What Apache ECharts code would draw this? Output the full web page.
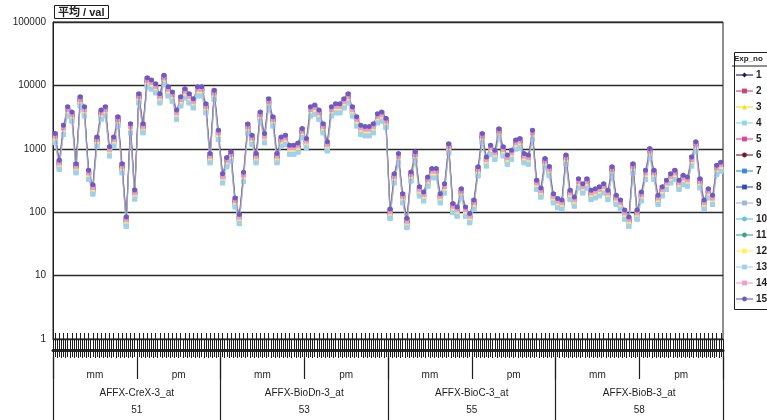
<!DOCTYPE html>
<html>
<head>
<meta charset="utf-8">
<script src="https://cdn.jsdelivr.net/npm/echarts@6/dist/echarts.min.js"></script>
<style>
  html, body { margin: 0; padding: 0; background: #ffffff; }
  #chart { width: 767px; height: 420px; }
</style>
</head>
<body>
<div id="chart"></div>
<script>
// Probe sets on the category axis: each has 20 mm probes followed by 20 pm probes
const probeSets = ['AFFX-CreX-3_at', 'AFFX-BioDn-3_at', 'AFFX-BioC-3_at', 'AFFX-BioB-3_at'];
const probeSetIds = ['51', '53', '55', '58'];
const pairTypes = ['mm', 'pm'];
const probesPerType = 20;

// Log-scale value ticks
const yTicks = [1, 10, 100, 1000, 10000, 100000];

// Signal values per experiment (Exp_no 1..15), 160 probes each
const exp1 = [1400,560,2000,4000,3100,500,5500,4000,390,220,
1300,3400,4000,880,1300,2700,480,72,2100,190,
6200,2100,11000,10500,9200,6200,12000,8200,6700,3400,
5700,7400,6300,5300,8000,8200,4300,690,7200,1600,
350,610,770,140,78,350,2100,1400,700,3300,
1500,5200,2700,720,1300,1400,980,960,1050,1800,
1250,3900,4100,3500,2100,1100,3900,4400,4300,5200,
6300,3900,2700,2000,1900,1900,2100,3000,3300,2600,
92,340,720,165,66,360,760,215,180,300,
410,420,165,235,1000,115,100,200,105,80,
130,440,1450,640,980,800,1750,920,670,800,
1180,1250,720,680,1650,270,205,600,440,165,
138,130,680,190,148,285,235,290,190,200,
215,235,190,440,155,130,92,70,490,90,
180,390,850,390,158,215,270,340,390,270,
320,305,640,1100,290,132,200,158,470,520];

const exp2 = [1650,620,2250,4300,3600,560,6200,4300,440,255,
1450,3800,4400,1000,1450,3000,550,80,2350,215,
7000,2300,12500,11500,10000,7000,13500,8900,7400,3800,
6200,8300,7000,5800,8900,9000,4800,800,7900,1850,
380,690,850,160,86,400,2300,1550,790,3600,
1650,5800,3000,790,1450,1550,1080,1070,1150,1950,
1380,4300,4600,3800,2350,1200,4300,4850,4800,5800,
6900,4300,3000,2200,2100,2100,2350,3350,3600,2850,
105,380,790,185,75,405,840,235,195,335,
455,460,185,265,1120,128,113,220,113,90,
146,490,1630,700,1070,890,1950,1010,745,890,
1290,1370,790,745,1840,300,226,655,490,185,
155,146,745,208,163,315,263,315,208,220,
236,263,208,490,173,146,101,79,545,101,
196,430,945,430,173,236,300,378,430,300,
357,336,700,1210,315,146,220,173,515,578];

const exp3 = [1350,520,1900,3500,3000,470,5200,3700,350,210,
1200,3200,3600,850,1250,2500,460,66,1950,175,
5800,1950,10300,9600,8500,5700,11400,7400,6200,3200,
5200,7000,5800,4800,7600,7400,4000,660,6500,1500,
320,570,700,132,72,330,1950,1300,650,3000,
1350,4900,2500,660,1200,1300,900,900,960,1650,
1150,3600,3850,3200,1950,1000,3600,4000,4100,4850,
5800,3600,2500,1850,1750,1750,1950,2800,3000,2400,
88,320,660,155,62,340,700,200,165,280,
380,385,155,220,940,108,95,185,95,75,
122,410,1360,585,900,750,1640,845,625,750,
1080,1150,660,625,1540,250,190,550,415,155,
130,122,625,175,137,265,220,265,175,185,
198,220,175,410,145,122,85,66,460,85,
165,360,790,360,145,198,250,315,360,250,
300,280,585,1010,265,122,185,145,430,485];

const exp4 = [1300,490,1750,3450,2850,440,4950,3450,345,200,
1150,3050,3450,810,1150,2400,435,60,1850,168,
5500,1850,9900,9150,8000,5550,10800,7100,5900,3050,
4950,6600,5550,4600,7100,7100,3850,630,6300,1450,
300,545,670,126,68,320,1850,1230,630,2850,
1300,4600,2400,630,1150,1230,855,855,925,1570,
1090,3450,3650,3050,1850,965,3450,3850,3850,4600,
5550,3450,2400,1750,1680,1680,1850,2700,2850,2250,
80,300,630,147,58,325,670,190,157,270,
365,365,147,210,900,102,90,176,90,70,
117,390,1300,560,855,715,1560,805,595,715,
1030,1090,630,595,1470,240,180,525,395,147,
123,117,595,166,130,252,210,252,166,176,
190,210,166,390,139,117,80,60,435,80,
157,345,755,345,139,190,240,300,345,240,
285,270,560,965,252,117,176,139,410,460];

const exp5 = [1700,640,2300,4450,3650,560,6400,4450,445,260,
1480,3900,4450,1040,1480,3100,560,82,2400,215,
7100,2400,12700,11800,10300,7100,13900,9200,7600,3950,
6400,8500,7100,5950,9200,9200,4950,810,8100,1900,
390,700,860,162,88,410,2400,1580,810,3650,
1680,5950,3100,810,1480,1580,1100,1100,1190,2020,
1400,4450,4700,3950,2400,1240,4450,4950,4950,5950,
7100,4450,3100,2250,2150,2150,2400,3450,3650,2900,
108,390,810,190,77,415,860,245,200,345,
470,470,190,270,1150,132,117,225,117,92,
150,500,1680,720,1100,920,2000,1040,765,920,
1330,1400,810,765,1890,310,230,675,510,190,
160,150,765,215,168,325,270,325,215,225,
245,270,215,500,178,150,104,81,560,104,
200,445,970,445,178,245,310,390,445,310,
365,345,720,1240,325,150,225,178,530,595];

const exp6 = [1600,600,2050,4000,3400,540,6000,4000,420,235,
1350,3700,4200,940,1400,2800,520,76,2250,205,
6700,2200,11500,11000,9400,6700,12600,8600,6900,3700,
6000,7800,6700,5400,8400,8700,4500,760,7400,1800,
370,640,820,148,84,370,2250,1450,760,3350,
1550,5400,2900,740,1400,1450,1030,1010,1100,1850,
1310,4050,4400,3600,2250,1150,4150,4550,4650,5500,
6500,4150,2850,2100,1980,2020,2200,3250,3350,2750,
100,365,740,178,70,390,790,228,185,325,
440,430,178,248,1080,120,110,212,106,86,
140,460,1560,660,1030,840,1880,950,715,860,
1240,1290,760,700,1760,290,212,630,465,178,
148,140,700,200,152,305,248,300,200,208,
228,252,195,470,163,140,97,74,525,95,
190,405,910,410,168,222,290,355,415,282,
345,318,670,1160,298,140,212,163,495,545];

const exp7 = [1430,545,1930,3770,3130,480,5430,3770,377,221,
1260,3350,3770,883,1260,2620,478,69,2040,184,
6070,2040,10900,10000,8740,6070,11900,7820,6440,3350,
5430,7270,6070,5060,7820,7820,4230,690,6900,1610,
331,598,736,138,75,350,2020,1340,690,3130,
1430,5060,2620,690,1260,1340,938,938,1010,1720,
1200,3770,4020,3350,2040,1060,3770,4230,4230,5060,
6070,3770,2620,1930,1840,1840,2040,2940,3130,2480,
92,331,690,161,65,354,736,207,172,294,
400,400,161,230,984,112,99,193,99,78,
128,428,1430,612,938,782,1710,883,653,782,
1130,1200,690,653,1610,262,198,575,432,161,
135,128,653,182,143,276,230,276,182,193,
207,230,182,428,152,128,88,69,478,88,
172,377,828,377,152,207,262,331,377,262,
313,294,612,1060,276,128,193,152,451,506];

const exp8 = [1520,580,2080,4020,3280,500,5800,4050,400,232,
1320,3550,4000,930,1340,2780,505,72,2180,195,
6450,2170,11600,10600,9200,6400,12500,8300,6800,3550,
5750,7700,6400,5350,8250,8300,4450,730,7300,1700,
350,630,780,146,80,370,2140,1420,730,3300,
1500,5350,2780,730,1330,1420,990,990,1070,1820,
1260,4000,4250,3550,2150,1120,4000,4450,4500,5350,
6400,4000,2780,2040,1940,1940,2150,3100,3300,2620,
97,350,730,170,69,375,775,218,182,310,
422,422,170,243,1040,118,105,204,105,82,
135,450,1500,645,990,825,1800,930,690,825,
1190,1260,730,690,1700,276,209,605,455,170,
143,135,690,192,150,291,243,291,192,204,
218,243,192,450,160,135,93,73,505,93,
181,398,873,398,160,218,276,349,398,276,
330,310,645,1120,291,135,204,160,475,534];

const exp9 = [1290,490,1740,3400,2820,430,4900,3400,340,200,
1140,3020,3400,800,1140,2370,430,62,1840,166,
5480,1840,9800,9050,7900,5480,10700,7050,5800,3020,
4900,6560,5480,4570,7050,7050,3820,620,6230,1450,
300,540,660,125,68,315,1830,1210,620,2820,
1290,4570,2370,620,1140,1210,850,850,910,1550,
1080,3400,3630,3020,1840,955,3400,3820,3820,4570,
5480,3400,2370,1740,1660,1660,1840,2660,2820,2240,
83,300,620,145,59,320,660,187,155,265,
361,361,145,208,888,101,90,174,90,71,
115,386,1290,552,847,706,1540,797,589,706,
1020,1080,620,589,1450,237,178,519,390,145,
122,115,589,164,129,249,208,249,164,174,
187,208,164,386,137,115,80,62,432,80,
155,340,747,340,137,187,237,299,340,237,
282,266,552,955,249,115,174,137,407,457];

const exp10 = [1420,530,1850,3700,3050,470,5300,3650,365,216,
1230,3280,3700,860,1230,2560,470,67,2000,180,
5950,2000,10600,9800,8550,5950,11600,7650,6300,3280,
5300,7100,5950,4950,7650,7650,4150,675,6750,1580,
325,585,720,135,74,342,1980,1310,675,3060,
1400,4950,2560,675,1230,1310,918,918,990,1680,
1170,3690,3930,3280,2000,1035,3690,4140,4140,4950,
5940,3690,2565,1890,1800,1800,2000,2880,3060,2430,
90,324,675,158,64,347,720,203,168,288,
392,392,158,225,963,110,97,189,97,77,
125,419,1395,599,918,765,1674,864,639,765,
1107,1170,675,639,1575,257,194,563,423,158,
132,125,639,178,140,270,225,270,178,189,
203,225,178,419,149,125,86,68,468,86,
168,369,810,369,149,203,257,324,369,257,
306,288,599,1035,270,125,189,149,441,495];

const exp11 = [1480,560,1950,3800,3200,490,5500,3850,385,224,
1280,3400,3800,900,1290,2650,485,70,2060,186,
6150,2070,11000,10100,8850,6150,12000,7900,6500,3400,
5500,7350,6150,5100,7900,7900,4300,700,6980,1630,
335,605,745,140,76,355,2050,1360,700,3160,
1440,5100,2650,700,1270,1360,950,950,1020,1740,
1210,3810,4060,3390,2060,1070,3810,4280,4280,5110,
6140,3810,2650,1950,1860,1860,2060,2980,3160,2510,
93,335,698,163,66,358,744,209,174,298,
405,405,163,233,995,113,100,195,100,79,
129,432,1440,618,949,790,1730,893,660,790,
1144,1210,698,660,1630,265,200,581,437,163,
137,129,660,184,144,279,233,279,184,195,
209,233,184,432,153,129,89,70,484,89,
174,381,837,381,153,209,265,335,381,265,
316,298,618,1070,279,129,195,153,456,512];

const exp12 = [1350,513,1830,3570,2960,452,5130,3570,357,209,
1190,3170,3570,835,1190,2480,452,65,1930,174,
5740,1930,10300,9480,8270,5740,11200,7400,6090,3170,
5130,6870,5740,4790,7400,7400,4000,653,6530,1520,
313,566,696,131,71,331,1910,1270,653,2960,
1350,4790,2480,653,1190,1270,887,887,957,1630,
1130,3570,3800,3170,1930,1000,3570,4000,4000,4790,
5740,3570,2480,1830,1740,1740,1930,2780,2960,2350,
87,313,653,152,62,335,696,196,163,278,
378,378,152,218,931,106,94,183,94,74,
121,405,1350,579,887,740,1620,835,618,740,
1070,1130,653,618,1520,248,187,544,409,152,
128,121,618,172,135,261,218,261,172,183,
196,218,172,405,144,121,84,65,452,84,
163,357,783,357,144,196,248,313,357,248,
296,278,579,1000,261,121,183,144,426,479];

const exp13 = [1240,472,1680,3280,2720,416,4720,3280,328,192,
1100,2910,3280,768,1100,2280,416,60,1780,160,
5280,1780,9440,8720,7600,5280,10300,6800,5600,2910,
4720,6320,5280,4400,6800,6800,3680,600,6000,1400,
288,520,640,120,66,304,1760,1170,600,2720,
1240,4400,2280,600,1100,1170,816,816,880,1500,
1040,3280,3500,2910,1780,920,3280,3680,3680,4400,
5280,3280,2280,1680,1600,1600,1780,2560,2720,2160,
80,288,600,140,57,308,640,180,150,256,
348,348,140,200,856,98,86,168,86,68,
111,372,1240,532,816,680,1490,768,568,680,
984,1040,600,568,1400,228,172,500,376,140,
118,111,568,158,124,240,200,240,158,168,
180,200,158,372,132,111,77,60,416,77,
150,328,720,328,132,180,228,288,328,228,
272,256,532,920,240,111,168,132,392,440];

const exp14 = [1580,600,2140,4180,3470,530,6020,4180,418,245,
1400,3710,4180,980,1400,2910,530,77,2260,204,
6730,2260,12000,11100,9690,6730,13200,8670,7140,3710,
6020,8060,6730,5610,8670,8670,4690,765,7650,1790,
367,663,816,153,84,388,2240,1490,765,3470,
1580,5610,2910,765,1400,1490,1040,1040,1120,1910,
1330,4180,4460,3710,2260,1170,4180,4690,4690,5610,
6730,4180,2910,2140,2040,2040,2260,3260,3470,2750,
102,367,765,179,72,393,816,230,191,326,
444,444,179,255,1090,124,110,214,110,87,
142,474,1580,678,1040,867,1900,979,724,867,
1250,1330,765,724,1790,291,219,638,479,179,
150,142,724,202,158,306,255,306,202,214,
230,255,202,474,168,142,98,77,530,98,
191,418,918,418,168,230,291,367,418,291,
347,326,678,1170,306,142,214,168,500,561];

const exp15 = [1740,660,2350,4590,3810,580,6610,4590,460,270,
1530,4080,4590,1080,1530,3190,580,84,2490,224,
7390,2490,13200,12200,10600,7390,14400,9520,7840,4080,
6610,8850,7390,6160,9520,9520,5150,840,8400,1960,
403,728,896,168,92,426,2460,1640,840,3810,
1740,6160,3190,840,1530,1640,1140,1140,1230,2090,
1460,4590,4890,4080,2490,1290,4590,5150,5150,6160,
7390,4590,3190,2350,2240,2240,2490,3580,3810,3020,
112,403,840,196,80,431,896,252,209,358,
487,487,196,280,1200,137,121,235,121,95,
156,521,1740,745,1140,952,2080,1080,795,952,
1380,1460,840,795,1960,319,241,700,526,196,
165,156,795,222,174,336,280,336,222,235,
252,280,222,521,185,156,108,84,582,108,
209,459,1010,459,185,252,319,403,459,319,
381,358,745,1290,336,156,235,185,549,616];

const expNames = ['1','2','3','4','5','6','7','8','9','10','11','12','13','14','15'];
const expValues = [exp1, exp2, exp3, exp4, exp5, exp6, exp7, exp8, exp9, exp10, exp11, exp12, exp13, exp14, exp15];

// Marker styling per experiment
const expColors = ['#1b1b5e','#c8436f','#f2e21c','#8fd8e0','#d6489a','#6e1f1f','#3f88d8','#2f4fb0',
                   '#9bb6dc','#5fc6dc','#3fa57f','#fff066','#9fd0ee','#f09ccc','#6a5cc0'];
const expSymbols = ['diamond','rect','triangle','rect','rect','circle','rect','rect',
                    'rect','circle','circle','rect','rect','rect','circle'];

// Category table: probe set -> pair type -> probe index
const probeCategories = [];
const halfCategories = [];
probeSets.forEach(function (ps, g) {
  pairTypes.forEach(function (t) {
    halfCategories.push(t);
    for (let k = 1; k <= probesPerType; k++) {
      probeCategories.push(probeSetIds[g] + '_' + t + '_' + k);
    }
  });
});

const groupLabels = probeSets.map(function (ps, g) {
  return '{n|' + ps + '}\n{n|' + probeSetIds[g] + '}';
});

const ink = '#1e1e1e';
const fontFam = 'Arial, "Liberation Sans", "Noto Sans CJK JP", sans-serif';

const chart = echarts.init(document.getElementById('chart'), null, { renderer: 'canvas' });

const series = expValues.map(function (vals, i) {
  return {
    name: expNames[i],
    type: 'line',
    xAxisIndex: 0,
    yAxisIndex: 0,
    data: vals,
    symbol: expSymbols[i],
    symbolSize: 5,
    showSymbol: true,
    showAllSymbol: true,
    color: expColors[i],
    lineStyle: { width: 0.8, opacity: 0.55 },
    itemStyle: { color: expColors[i] },
    emphasis: { disabled: true },
    animation: false,
    z: 2 + i
  };
});

chart.setOption({
  backgroundColor: '#ffffff',
  animation: false,
  title: {
    text: '平均 / val',
    left: 54,
    top: 5,
    padding: [2, 4, 1, 4],
    borderColor: ink,
    borderWidth: 1,
    textStyle: { fontSize: 11, fontWeight: 'bold', color: ink, fontFamily: fontFam }
  },
  grid: {
    left: 53, right: 44, top: 22, bottom: 81,
    show: true, borderColor: ink, borderWidth: 1, backgroundColor: 'transparent'
  },
  legend: {
    orient: 'vertical',
    left: 735,
    top: 69,
    padding: 0,
    itemWidth: 17,
    itemHeight: 6,
    itemGap: 4,
    selectedMode: false,
    data: expNames,
    textStyle: { fontSize: 10, fontWeight: 'bold', color: ink, fontFamily: fontFam, lineHeight: 12, padding: [0, 0, 0, -2] }
  },
  graphic: [
    { type: 'rect', left: 732, top: 50, shape: { width: 60, height: 257 },
      style: { fill: 'none', stroke: ink, lineWidth: 1 }, silent: true },
    { type: 'line', shape: { x1: 732, y1: 66, x2: 767, y2: 66 },
      style: { stroke: ink, lineWidth: 1 }, silent: true },
    { type: 'text', left: 734, top: 55,
      style: { text: 'Exp_no', fontSize: 8, fontWeight: 'bold', fill: ink, fontFamily: fontFam }, silent: true }
  ],
  xAxis: [
    {
      type: 'category', data: probeCategories, position: 'bottom', boundaryGap: true,
      axisLine: { show: true, lineStyle: { color: ink, width: 1 } },
      axisTick: { show: true, interval: 0, length: 19, lineStyle: { color: ink, width: 1 } },
      axisLabel: { show: false }, splitLine: { show: false }
    },
    {
      type: 'category', data: probeCategories, position: 'bottom', offset: -6, boundaryGap: true,
      axisLine: { show: false },
      axisTick: { show: true, interval: 0, alignWithLabel: true, length: 24, lineStyle: { color: ink, width: 1 } },
      axisLabel: { show: false }, splitLine: { show: false }
    },
    {
      type: 'category', data: probeCategories, position: 'bottom', offset: 11,
      axisLine: { show: true, lineStyle: { color: '#2a2a2a', width: 3 } },
      axisTick: { show: false }, axisLabel: { show: false }, splitLine: { show: false }
    },
    {
      type: 'category', data: halfCategories, position: 'bottom', offset: 18, boundaryGap: true,
      axisLine: { show: false },
      axisTick: { show: true, interval: 0, length: 22, lineStyle: { color: ink, width: 1.2 } },
      axisLabel: { show: true, interval: 0, margin: 13, fontSize: 10, color: ink, fontFamily: fontFam },
      splitLine: { show: false }
    },
    {
      type: 'category', data: groupLabels, position: 'bottom', offset: 11, boundaryGap: true,
      axisLine: { show: false },
      axisTick: { show: true, interval: 0, length: 72, lineStyle: { color: ink, width: 1.2 } },
      axisLabel: {
        show: true, interval: 0, margin: 35,
        rich: { n: { fontSize: 10, lineHeight: 17, color: ink, fontFamily: fontFam } }
      },
      splitLine: { show: false }
    }
  ],
  yAxis: {
    type: 'log',
    logBase: 10,
    min: yTicks[0],
    max: yTicks[yTicks.length - 1],
    axisLine: { show: true, lineStyle: { color: ink, width: 1 } },
    axisTick: { show: false },
    axisLabel: {
      margin: 7, fontSize: 10, color: ink, fontFamily: fontFam,
      formatter: function (v) { return String(Math.round(v)); }
    },
    splitLine: { show: true, lineStyle: { color: '#2b2b2b', width: 1.3 } }
  },
  series: series
});
</script>
</body>
</html>
